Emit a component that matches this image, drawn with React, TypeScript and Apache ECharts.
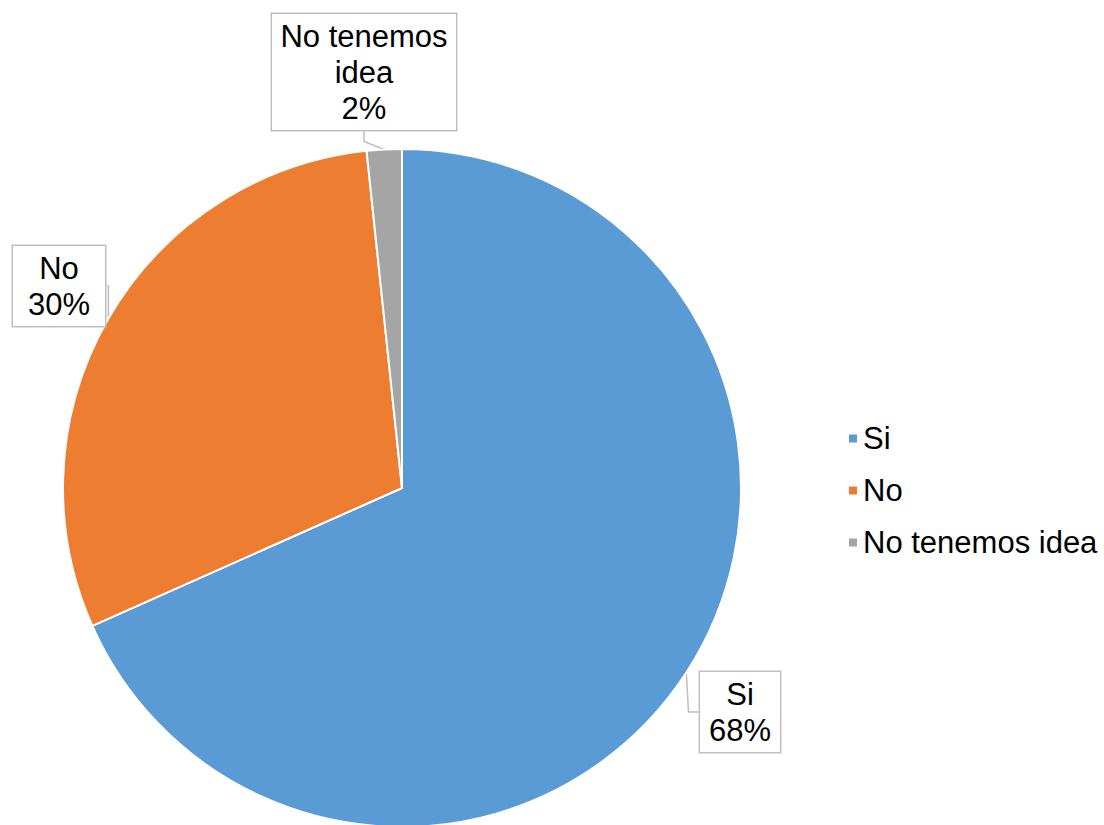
import React, { useEffect, useRef } from "react";
import * as echarts from "echarts";

const categories = ["Si", "No", "No tenemos idea"];
const labelNames = ["Si", "No", "No tenemos\nidea"];
const values = [41, 18, 1];
const colors = ["#5B9BD5", "#ED7D31", "#A5A5A5"];
const labelCenters: [number, number][] = [
  [740, 712],
  [59, 286],
  [364, 72],
];
const labelWidths = [62, 62, 160];
const labelPads = [9, 15, 12];

export default function App() {
  const ref = useRef<HTMLDivElement>(null);
  useEffect(() => {
    document.body.style.margin = "0";
    const chart = echarts.init(ref.current!, null, { renderer: "svg" });
    chart.setOption({
      animation: false,
      legend: {
        orient: "vertical",
        left: 842,
        top: 418,
        itemWidth: 10,
        itemHeight: 10,
        itemGap: 21,
        icon: "rect",
        textStyle: {
          fontFamily: "Liberation Sans, Arial",
          fontSize: 31,
          color: "#000",
        },
        data: categories,
      },
      series: [
        {
          type: "pie",
          center: [402, 488],
          radius: 339,
          startAngle: 90,
          clockwise: true,
          percentPrecision: 0,
          itemStyle: { borderColor: "#fff", borderWidth: 2 },
          label: {
            show: true,
            position: "outside",
            fontFamily: "Liberation Sans, Arial",
            fontSize: 31,
            lineHeight: 36,
            color: "#000",
            align: "center",
            backgroundColor: "#fff",
            borderColor: "#BFBFBF",
            borderWidth: 1.5,
            overflow: "none",
            formatter: (p: any) => `${labelNames[p.dataIndex]}\n${p.percent}%`,
          },
          labelLine: {
            show: true,
            length: 10,
            length2: 10,
            lineStyle: { color: "#BFBFBF", width: 1.5 },
          },
          labelLayout: (p: any) => ({
            x: labelCenters[p.dataIndex][0],
            y: labelCenters[p.dataIndex][1],
            align: "center",
            verticalAlign: "middle",
          }),
          data: categories.map((c, i) => ({
            name: c,
            value: values[i],
            itemStyle: { color: colors[i] },
            label: { width: labelWidths[i], padding: [4, labelPads[i]] },
          })),
        },
      ],
    });
    return () => chart.dispose();
  }, []);
  return <div ref={ref} style={{ width: 1104, height: 825 }} />;
}
